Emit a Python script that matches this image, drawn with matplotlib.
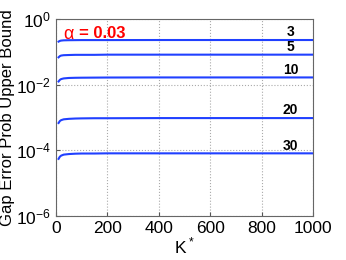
import numpy as np
import matplotlib.pyplot as plt

# data
k_star = [10, 15, 20, 30, 50, 75, 100, 150, 200, 400, 600, 800, 1000]
sizes = ["3", "5", "10", "20", "30"]
bound_3 = [0.205, 0.215, 0.220, 0.224, 0.226, 0.227, 0.228, 0.228, 0.228, 0.229, 0.229, 0.229, 0.229]
bound_5 = [0.068, 0.074, 0.077, 0.079, 0.080, 0.081, 0.081, 0.081, 0.082, 0.082, 0.082, 0.082, 0.082]
bound_10 = [0.0125, 0.0140, 0.0148, 0.0155, 0.0160, 0.0162, 0.0163, 0.0164, 0.0165, 0.0166, 0.0166, 0.0166, 0.0166]
bound_20 = [6.8e-4, 7.8e-4, 8.3e-4, 8.8e-4, 9.1e-4, 9.3e-4, 9.4e-4, 9.5e-4, 9.5e-4, 9.6e-4, 9.6e-4, 9.6e-4, 9.6e-4]
bound_30 = [5.5e-5, 6.4e-5, 6.9e-5, 7.4e-5, 7.7e-5, 7.9e-5, 8.0e-5, 8.0e-5, 8.1e-5, 8.1e-5, 8.1e-5, 8.1e-5, 8.1e-5]
bounds = [bound_3, bound_5, bound_10, bound_20, bound_30]

plt.rcParams['font.family'] = ['Liberation Sans', 'DejaVu Sans']
plt.rcParams['mathtext.fontset'] = 'custom'
plt.rcParams['mathtext.rm'] = 'Liberation Sans'

fig = plt.figure(figsize=(3.46, 2.60), dpi=100)
ax = fig.add_axes([56/346, 1 - 216/260, 257/346, 197/260])

for lab, y in zip(sizes, bounds):
    ax.plot(k_star, y, color='#2040ff', lw=1.5)
    ax.text(912, y[-1] * 1.06, lab, fontsize=10, fontweight='bold',
            ha='center', va='bottom')

ax.text(0.03, 0.965, "α", transform=ax.transAxes, color='red',
        fontsize=13, va='top', ha='left')
ax.text(0.09, 0.965, "= 0.03", transform=ax.transAxes, color='red',
        fontsize=12, fontweight='bold', va='top', ha='left')

ax.set_yscale('log')
ax.set_xlim(0, 1000)
ax.set_ylim(1e-6, 1)
ax.set_xticks([0, 200, 400, 600, 800, 1000])
ax.set_yticks([1e-6, 1e-4, 1e-2, 1])
ax.minorticks_off()
ax.grid(True, ls=':', color='#aaaaaa', lw=0.8)
ax.tick_params(labelsize=12.5, direction='in', length=3, color='#555555')
for s in ax.spines.values():
    s.set_color('#666666')
ax.set_xlabel(r"K$^*$", fontsize=12.5, labelpad=0)
ax.set_ylabel("Gap Error Prob Upper Bound", fontsize=12, labelpad=1)

fig.savefig("out.png", dpi=100)
